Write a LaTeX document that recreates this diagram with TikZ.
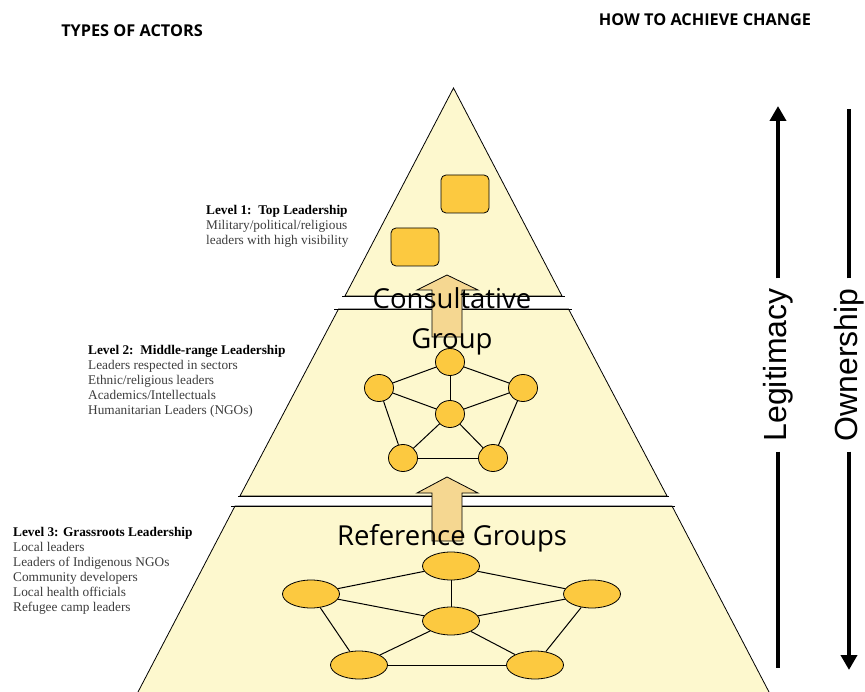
\documentclass[tikz,border=0pt]{standalone}
\usepackage{fontspec}
\setmainfont{Liberation Serif}
\newfontfamily\headfont{Open Sans}
\newfontfamily\axisfont{Liberation Sans}
\usetikzlibrary{shapes.geometric}
\usetikzlibrary{arrows.meta}
\definecolor{pyrfill}{RGB}{253,248,206}
\definecolor{grpfill}{RGB}{252,201,64}
\definecolor{arrfill}{RGB}{245,215,145}
\definecolor{txtgray}{RGB}{60,60,60}

\begin{document}
\begin{tikzpicture}[x=1pt, y=-1pt,
    every node/.style={inner sep=0pt},
    tier/.style={fill=pyrfill, draw=black, line width=0.8pt},
    chief/.style={draw=black, fill=grpfill, rounded corners=5pt, minimum width=48pt, minimum height=38pt, line width=0.8pt},
    cnode/.style={ellipse, draw=black, fill=grpfill, minimum width=29pt, minimum height=27pt, line width=0.8pt},
    rnode/.style={cnode, minimum width=57pt, minimum height=28pt},
    link/.style={draw=black, line width=1pt},
    blockarrow/.style={fill=arrfill, draw=black, line width=0.8pt},
    axis/.style={line width=4.5pt, black},
    head/.style={font=\headfont\bfseries\fontsize{16.3}{18}\selectfont},
    grouptext/.style={align=center, font=\headfont\fontsize{27.5}{40}\selectfont},
    vlabel/.style={rotate=90, inner xsep=10pt, font=\axisfont\fontsize{32}{36}\selectfont},
    leveltext/.style={anchor=north west, align=left, text=txtgray, font=\fontsize{13.3}{15}\selectfont},
  ]
  \useasboundingbox (0,0) rectangle (865,692);

  % Pyramid tiers
  \draw[tier] (453.5,88) -- (345,296) -- (562,296) -- cycle;
  \draw[tier] (338.5,309) -- (240,496) -- (667,496) -- (568.5,309) -- cycle;
  \fill[pyrfill] (235,506) -- (138,692) -- (769,692) -- (672,506) -- cycle;
  \draw[tier, fill=none] (138,692) -- (235,506) -- (672,506) -- (769,692);
  \draw[line width=0.8pt] (342,296) -- (565,296);
  \draw[line width=0.8pt] (334,309) -- (572,309);
  \draw[line width=0.8pt] (238,496) -- (669,496);
  \draw[line width=0.8pt] (231,506) -- (675,506);

  % Block arrows between the tiers
  \draw[blockarrow] (432,337) -- (432,290) -- (417,290) -- (447,275) -- (478,290) -- (462,290) -- (462,337) -- cycle;
  \draw[blockarrow] (432,541) -- (432,493) -- (417,493) -- (447,477) -- (478,493) -- (462,493) -- (462,541) -- cycle;

  % Top leadership
  \node[chief] (boxa) at (465,194) {};
  \node[chief] (boxb) at (415,247) {};

  % Consultative group
  \node[cnode] (mtop) at (450,362) {};
  \node[cnode] (mleft) at (379,388) {};
  \node[cnode] (mright) at (523,388) {};
  \node[cnode] (mhub) at (450,414) {};
  \node[cnode] (mbl) at (403,458) {};
  \node[cnode] (mbr) at (493,458) {};

  % Reference groups
  \node[rnode] (rtop) at (451,566) {};
  \node[rnode] (rleft) at (311,594) {};
  \node[rnode] (rright) at (592,594) {};
  \node[rnode] (rhub) at (451,621) {};
  \node[rnode] (rbl) at (359,665) {};
  \node[rnode] (rbr) at (535,665) {};

  % Connect the nodes
  \foreach \a/\b in {top/left, top/right, top/hub, left/hub, right/hub,
                     left/bl, right/br, hub/bl, hub/br, bl/br} {
    \draw[link] (m\a) -- (m\b);
    \draw[link] (r\a) -- (r\b);
  }

  \node[grouptext] (consult) at (452,321) {Consultative\\Group};
  \node[grouptext] (refgrp) at (452,538) {Reference Groups};

  % Headings
  \node[head] (types) at (132,31) {TYPES OF ACTORS};
  \node[head] (how) at (705,20) {HOW TO ACHIEVE CHANGE};

  % Levels
  \node[leveltext] (lvone) at (206,205) {\textcolor{black}{\textbf{Level 1:\ \ Top Leadership}}\\
    Military/political/religious\\leaders with high visibility};
  \node[leveltext] (lvtwo) at (88,345) {\textcolor{black}{\textbf{Level 2:\ \ Middle-range Leadership}}\\
    Leaders respected in sectors\\Ethnic/religious leaders\\Academics/Intellectuals\\Humanitarian Leaders (NGOs)};
  \node[leveltext] (lvthree) at (13,527) {\textcolor{black}{\textbf{Level 3: Grassroots Leadership}}\\
    Local leaders\\Leaders of Indigenous NGOs\\Community developers\\Local health officials\\Refugee camp leaders};

  % Legitimacy and ownership
  \coordinate (legtop) at (778,106);
  \coordinate (legbot) at (778,668);
  \coordinate (owntop) at (849,109);
  \coordinate (ownbot) at (849,670);
  \node[vlabel] (legit) at (778,365) {Legitimacy};
  \node[vlabel] (own) at (849,365) {Ownership};
  \draw[axis, -{Triangle[width=16pt,length=15pt]}] (legit.east) -- (legtop);
  \draw[axis] (legit.west) -- (legbot);
  \draw[axis] (own.east) -- (owntop);
  \draw[axis, -{Triangle[width=16pt,length=15pt]}] (own.west) -- (ownbot);
\end{tikzpicture}
\end{document}
